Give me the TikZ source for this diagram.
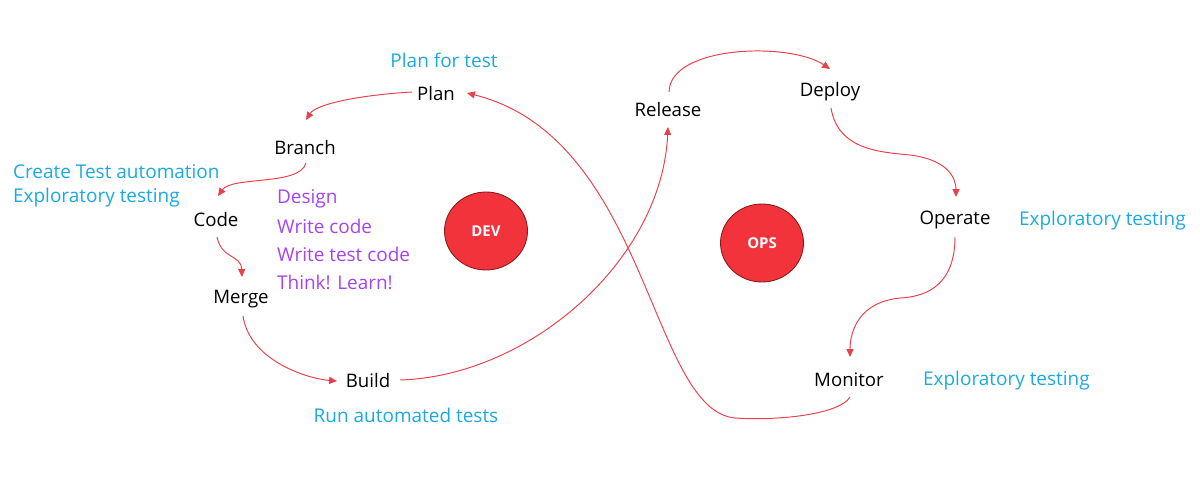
\documentclass[tikz,border=0pt]{standalone}
\usepackage{fontspec}
\setmainfont{Open Sans}
\usetikzlibrary{arrows.meta,shapes.geometric}
\definecolor{arrowred}{HTML}{E8414B}
\definecolor{tcyan}{HTML}{1AA9E3}
\definecolor{tpurple}{HTML}{A544F2}
\definecolor{circfill}{HTML}{F3333B}
\definecolor{circline}{HTML}{8A1B1B}
\tikzset{
  stage/.style={font=\fontsize{10.6}{12}\selectfont, text=black, inner sep=1pt},
  note/.style={font=\fontsize{10.8}{12}\selectfont, text=tcyan, inner sep=1pt},
  todo/.style={font=\fontsize{10.8}{12}\selectfont, text=tpurple, inner sep=1pt, anchor=west},
  hub/.style={ellipse, draw=circline, line width=0.5pt, fill=circfill, minimum width=1.66cm, minimum height=1.56cm, text=white, font=\bfseries\fontsize{8.5}{10}\selectfont},
  flow/.style={draw=arrowred, line width=0.55pt, -{Triangle[length=4.5pt,width=4pt]}}
}
\begin{document}
\begin{tikzpicture}[x=0.02cm,y=-0.02cm]
\useasboundingbox (0,0) rectangle (1200,487);
% stages
\node[stage] (plan) at (436,94) {Plan};
\node[stage] (branch) at (305,148) {Branch};
\node[stage] (code) at (216,220) {Code};
\node[stage] (merge) at (241,299) {Merge};
\node[stage] (build) at (368,381) {Build};
\node[stage] (release) at (668,110) {Release};
\node[stage] (deploy) at (830,92) {Deploy};
\node[stage] (operate) at (955,220) {Operate};
\node[stage] (monitor) at (849,380) {Monitor};
% hubs
\node[hub] (dev) at (486,231) {DEV};
\node[hub] (ops) at (762,243) {OPS};
% notes
\node[note] (planfortest) at (444,60) {Plan for test};
\node[note, anchor=west] (createtest) at (11,172) {Create Test automation};
\node[note, anchor=west] (explore1) at (11,198) {Exploratory testing};
\node[note] (runtests) at (406,415) {Run automated tests};
\node[note, anchor=west] (explore2) at (1017,221) {Exploratory testing};
\node[note, anchor=west] (explore3) at (921,381) {Exploratory testing};
\node[todo] (design) at (275,199) {Design};
\node[todo] (writecode) at (275,226) {Write code};
\node[todo] (writetest) at (275,254) {Write test code};
\node[todo] (think) at (275,282) {Think! Learn!};
% connectors
\draw[flow] ([shift={(-24,-2)}]plan.center) .. controls (360,95) and (316,104) .. ([shift={(1,-28)}]branch.center);
\draw[flow] ([shift={(1,15)}]branch.center) .. controls (300,186) and (232,176) .. ([shift={(2,-24)}]code.center);
\draw[flow] ([shift={(1,17)}]code.center) .. controls (222,260) and (241,254) .. ([shift={(1,-22)}]merge.center);
\draw[flow] ([shift={(2,17)}]merge.center) .. controls (250,362) and (310,379) .. ([shift={(-31,0)}]build.center);
\draw[flow] ([shift={(32,-1)}]build.center) .. controls (530,376) and (662,260) .. ([shift={(0,17)}]release.center);
\draw[flow] ([shift={(1,-18)}]release.center) .. controls (670,45) and (790,42) .. ([shift={(0,-23)}]deploy.center);
\draw[flow] ([shift={(1,16)}]deploy.center) .. controls (838,150) and (880,152) .. (910,155) .. controls (950,160) and (956,180) .. ([shift={(1,-23)}]operate.center);
\draw[flow] ([shift={(0,17)}]operate.center) .. controls (955,290) and (920,297) .. (900,298) .. controls (860,302) and (850,330) .. ([shift={(1,-23)}]monitor.center);
\draw[flow] ([shift={(1,17)}]monitor.center) .. controls (840,414) and (780,421) .. (735,418) .. controls (650,410) and (648,138) .. ([shift={(31,-1)}]plan.center);
\end{tikzpicture}
\end{document}
